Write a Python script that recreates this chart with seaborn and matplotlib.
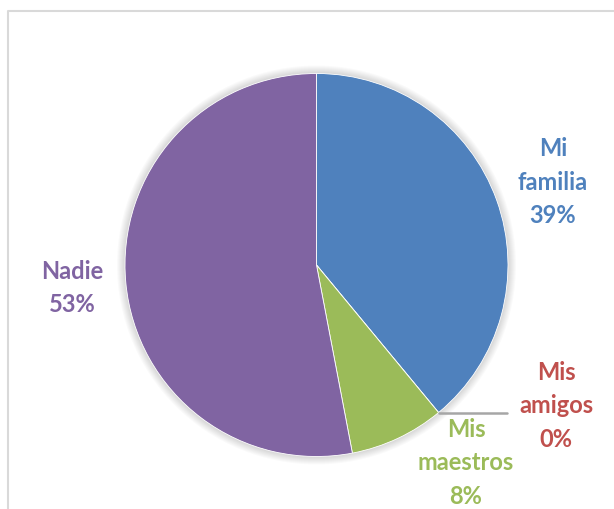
import matplotlib
matplotlib.use("Agg")
import matplotlib.pyplot as plt
import seaborn as sns
import numpy as np
from matplotlib.patches import Circle

# datos
categorias = ["Mi\nfamilia", "Mis\namigos", "Mis\nmaestros", "Nadie"]
valores = [39, 0, 8, 53]
colores = ["#4F81BD", "#C0504D", "#9BBB59", "#8064A2"]

# posiciones de las etiquetas (pixeles, y hacia arriba)
pos_etiquetas = [(553, 328), (556, 104), (466, 47), (72, 222)]

sns.set_style("white")
plt.rcParams["font.family"] = ["Lato", "DejaVu Sans"]

fig = plt.figure(figsize=(6.14, 5.10), dpi=100)
ax = fig.add_axes([0, 0, 1, 1])

centro = (316.5, 244)
radio = 191.5

# sombra suave
for i in range(8):
    ax.add_patch(Circle(centro, radio + 1 + i, color="black", alpha=0.018, lw=0, zorder=0))

wedges, _ = ax.pie(valores, colors=colores, startangle=90, counterclock=False,
                   center=centro, radius=radio, frame=True,
                   wedgeprops=dict(linewidth=0.6, edgecolor="white"))
ax.set_xlim(0, 614)
ax.set_ylim(0, 510)
ax.set_aspect("equal")
ax.axis("off")

for cat, val, col, (x, y) in zip(categorias, valores, colores, pos_etiquetas):
    ax.text(x, y, f"{cat}\n{val}%", color=col, fontsize=17, fontweight="bold",
            ha="center", va="center", linespacing=1.55)

# linea guia para "Mis amigos"
ang = np.deg2rad(wedges[1].theta1)
x0 = centro[0] + radio * np.cos(ang)
y0 = centro[1] + radio * np.sin(ang)
ax.plot([x0, 507], [y0, y0], color="#A6A6A6", lw=1.8)

# borde del grafico
ax.plot([8, 8, 614], [0, 498, 498], color="#D9D9D9", lw=1.5, clip_on=False)

fig.savefig("out.png", dpi=100)
